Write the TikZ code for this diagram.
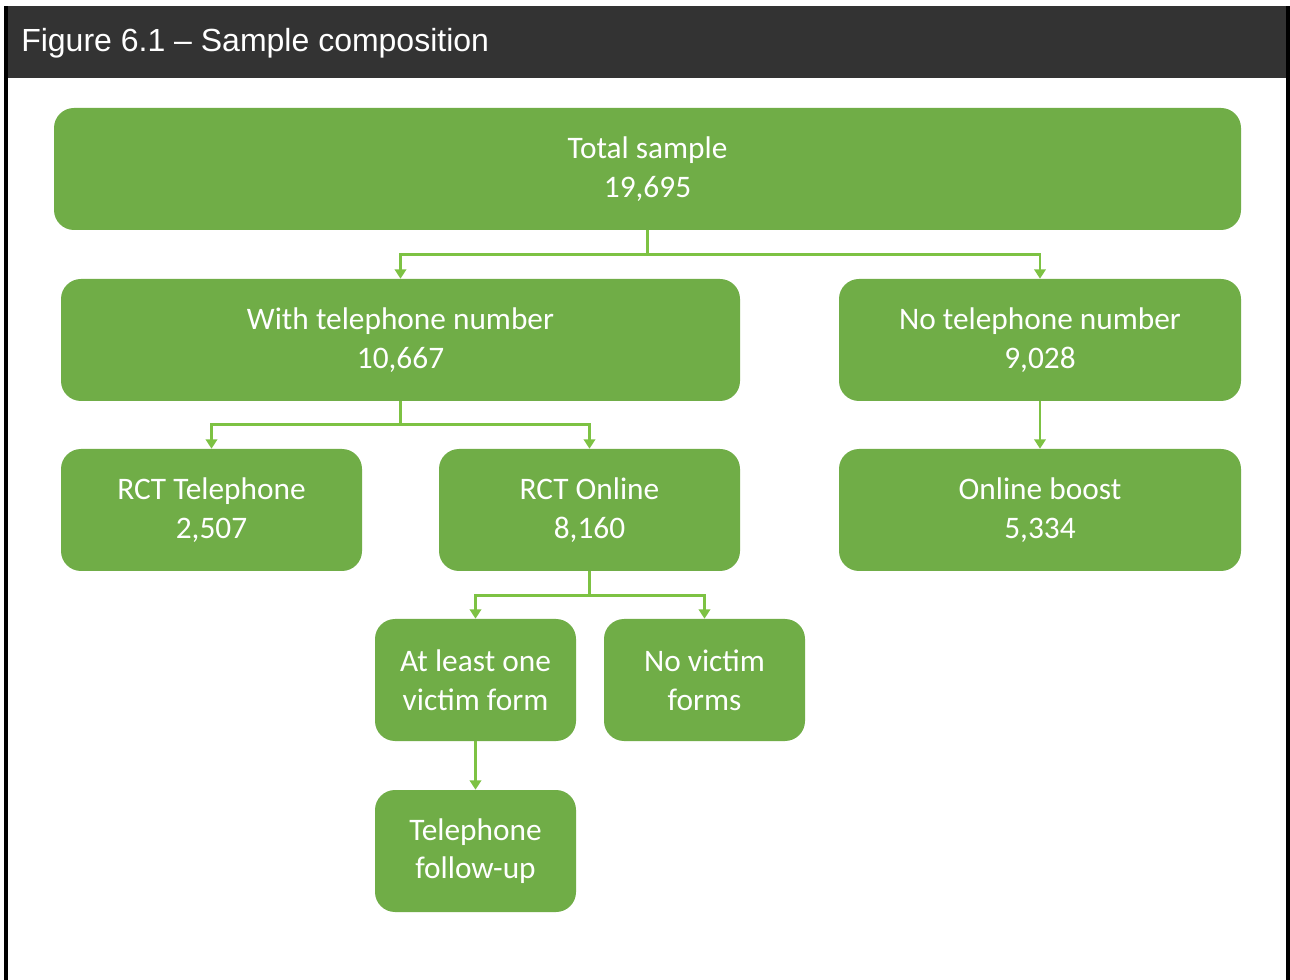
\documentclass[tikz,border=0pt]{standalone}
\usepackage{fontspec}
\setmainfont{Carlito}
\newfontfamily\headfont{Liberation Sans}
\usepackage{xcolor}
\usetikzlibrary{arrows.meta,positioning}
\definecolor{boxgreen}{HTML}{70AD47}
\definecolor{linegreen}{HTML}{7DC243}
\definecolor{headgrey}{HTML}{333333}
\tikzset{%
	block/.style = {fill=boxgreen, rounded corners=15pt, text=white, align=center, minimum height=91.5pt, inner sep=0pt, font=\fontsize{23.5}{29}\selectfont},
	wide/.style  = {block, minimum width=890.25pt},
	half/.style  = {block, minimum width=509.25pt},
	side/.style  = {block, minimum width=301.5pt},
	mid/.style   = {block, minimum width=225.75pt},
	small/.style = {block, minimum width=150.75pt},
	conn/.style  = {draw=linegreen, line width=2.2pt, -{Triangle[length=7pt,width=8.5pt]}},
}

\begin{document}
\begin{tikzpicture}[x=0.75pt,y=-0.75pt]
		\useasboundingbox (0,0) rectangle (1290,980);
		\fill[black] (4,6) rectangle (1290,980);  % frame
		\fill[white] (8,78) rectangle (1286,980);
		\fill[headgrey] (8,6) rectangle (1286,78);  % title bar
		\node[anchor=west, text=white, inner sep=0pt, font=\headfont\fontsize{24}{28}\selectfont] (title) at (21,43) {Figure 6.1 – Sample composition};
		\node[wide]  (total)     at (647.5,169) {Total sample\\19,695};
		\node[half]  (withtel)   at (400.5,340) {With telephone number\\10,667};
		\node[side]  (notel)     at (1040,340)  {No telephone number\\9,028};
		\node[mid]   (rcttel)    at (211.5,510) {RCT Telephone\\2,507};
		\node[mid]   (rctonline) at (589.5,510) {RCT Online\\8,160};
		\node[side]  (boost)     at (1040,510)  {Online boost\\5,334};
		\node[small] (victim)    at (475.5,680) {At least one\\victim form};
		\node[small] (novictim)  at (704.5,680) {No victim\\forms};
		\node[small] (followup)  at (475.5,851) {Telephone\\follow-up};
		\draw[conn] (total.south) -- ++(0,24) -| (withtel.north);
		\draw[conn] (total.south) -- ++(0,24) -| (notel.north);
		\draw[conn] (withtel.south) -- ++(0,23) -| (rcttel.north);
		\draw[conn] (withtel.south) -- ++(0,23) -| (rctonline.north);
		\draw[conn] (notel.south) -- (boost.north);
		\draw[conn] (rctonline.south) -- ++(0,24) -| (victim.north);
		\draw[conn] (rctonline.south) -- ++(0,24) -| (novictim.north);
		\draw[conn] (victim.south) -- (followup.north);
		\end{tikzpicture}
\end{document}
